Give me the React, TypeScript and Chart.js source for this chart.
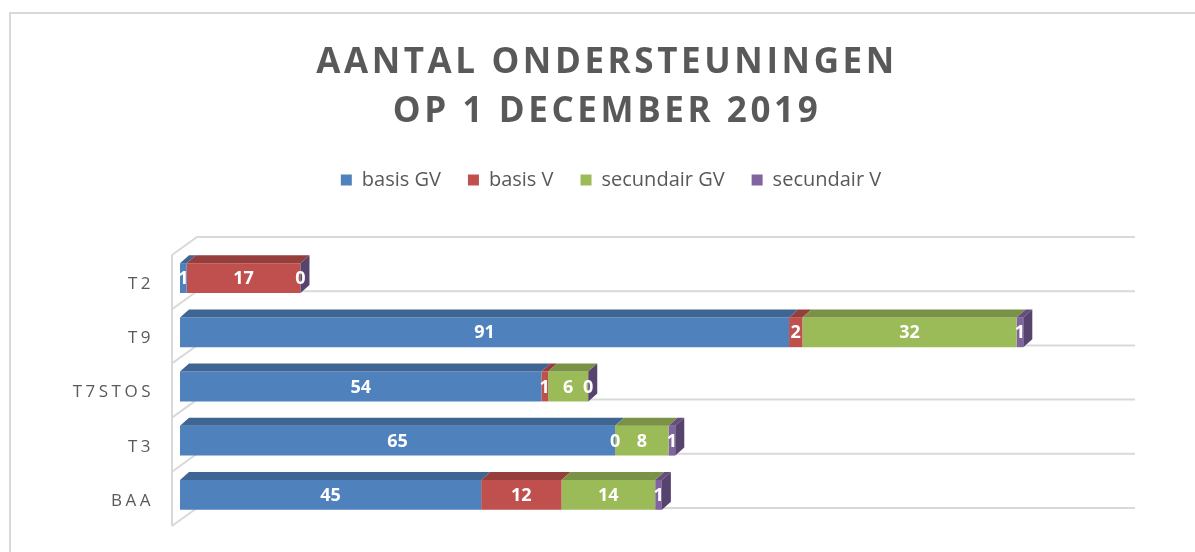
import React, { useEffect, useRef } from "react";
import { Chart, registerables } from "chart.js";

Chart.register(...registerables);

const categories = ["T2", "T9", "T7STOS", "T3", "BAA"];
const basisGV = [1, 91, 54, 65, 45];
const basisV = [17, 2, 1, 0, 12];
const secundairGV = [null, 32, 6, 8, 14];
const secundairV = [0, 1, 0, 1, 1];
const seriesNames = ["basis GV", "basis V", "secundair GV", "secundair V"];
const seriesColors = ["#4F81BD", "#C0504D", "#9BBB59", "#8064A2"];
const titleLines = ["AANTAL ONDERSTEUNINGEN", "OP 1 DECEMBER 2019"];
const xMax = 140;

const FONT = '"Open Sans", "DejaVu Sans", sans-serif';
const DX = 9;
const DY = 8;

function shade(hex: string, f: number): string {
  const n = parseInt(hex.slice(1), 16);
  const r = Math.round(((n >> 16) & 255) * f);
  const g = Math.round(((n >> 8) & 255) * f);
  const b = Math.round((n & 255) * f);
  return `rgb(${r},${g},${b})`;
}

const threeD = {
  id: "threeD",
  beforeDatasetsDraw(chart: any) {
    const { ctx, chartArea } = chart;
    const { left, right, top, bottom } = chartArea;
    const n = categories.length;
    const c = (bottom - top) / n;
    ctx.save();
    ctx.letterSpacing = "0px";
    ctx.strokeStyle = "#d9d9d9";
    ctx.lineWidth = 2;
    ctx.beginPath();
    ctx.moveTo(left - 8, top + 4);
    ctx.lineTo(left - 8, bottom + 4);
    for (let k = 0; k <= n; k++) {
      const b = top + k * c;
      ctx.moveTo(left - 8, b + 4);
      ctx.lineTo(left + 17, b - 14);
      ctx.lineTo(right + 18, b - 14);
    }
    ctx.stroke();
    ctx.restore();
  },
  afterDatasetsDraw(chart: any) {
    const ctx = chart.ctx;
    const datasets = chart.data.datasets;
    const lastIdx = categories.map((_, i) => {
      let last = -1;
      datasets.forEach((ds: any, d: number) => {
        if (ds.data[i] != null) last = d;
      });
      return last;
    });
    ctx.save();
    ctx.letterSpacing = "0px";
    datasets.forEach((ds: any, d: number) => {
      const meta = chart.getDatasetMeta(d);
      const color = seriesColors[d];
      meta.data.forEach((el: any, i: number) => {
        if (ds.data[i] == null) return;
        const { x, y, base, height } = el.getProps(["x", "y", "base", "height"], true);
        const t = y - height / 2;
        const b = y + height / 2;
        ctx.fillStyle = shade(color, 0.78);
        ctx.beginPath();
        ctx.moveTo(base, t);
        ctx.lineTo(base + DX, t - DY);
        ctx.lineTo(x + DX, t - DY);
        ctx.lineTo(x, t);
        ctx.closePath();
        ctx.fill();
        if (lastIdx[i] === d) {
          ctx.fillStyle = shade(color, 0.68);
          ctx.beginPath();
          ctx.moveTo(x, t);
          ctx.lineTo(x + DX, t - DY);
          ctx.lineTo(x + DX, b - DY);
          ctx.lineTo(x, b);
          ctx.closePath();
          ctx.fill();
        }
      });
    });
    ctx.font = `bold 18px ${FONT}`;
    ctx.fillStyle = "#ffffff";
    ctx.textAlign = "center";
    ctx.textBaseline = "middle";
    datasets.forEach((ds: any, d: number) => {
      const meta = chart.getDatasetMeta(d);
      meta.data.forEach((el: any, i: number) => {
        const v = ds.data[i];
        if (v == null) return;
        const { x, y, base } = el.getProps(["x", "y", "base"], true);
        ctx.fillText(String(v), (base + x) / 2, y + 1);
      });
    });
    ctx.restore();
    ctx.letterSpacing = "3.5px";
  },
  afterDraw(chart: any) {
    const ctx = chart.ctx;
    ctx.save();
    ctx.letterSpacing = "3.6px";
    ctx.font = `bold 35px ${FONT}`;
    ctx.fillStyle = "#595959";
    ctx.textAlign = "center";
    ctx.textBaseline = "middle";
    const cx = chart.width / 2 + 4;
    ctx.fillText(titleLines[0], cx, 49);
    ctx.fillText(titleLines[1], cx, 98);
    ctx.restore();
    ctx.letterSpacing = "0px";
  },
};

export default function App() {
  const ref = useRef<HTMLCanvasElement | null>(null);
  useEffect(() => {
    if (!ref.current) return;
    const series = [basisGV, basisV, secundairGV, secundairV];
    const chart = new Chart(ref.current, {
      type: "bar",
      data: {
        labels: categories,
        datasets: series.map((data, i) => ({
          label: seriesNames[i],
          data: data as any,
          backgroundColor: seriesColors[i],
          borderWidth: 0,
          barPercentage: 0.55,
          categoryPercentage: 1,
        })),
      },
      options: {
        indexAxis: "y",
        animation: false,
        responsive: false,
        maintainAspectRatio: false,
        layout: { padding: { top: 129, left: 16, right: 0, bottom: 30 } },
        plugins: {
          title: { display: false },
          tooltip: { enabled: false },
          legend: {
            position: "top",
            labels: {
              boxWidth: 11,
              boxHeight: 11,
              padding: 27,
              color: "#595959",
              font: { size: 20, family: FONT },
            },
          },
        },
        scales: {
          x: {
            type: "linear",
            position: "top",
            stacked: true,
            min: 0,
            max: xMax,
            grid: { display: false },
            border: { display: false },
            ticks: { display: false },
            afterFit(s: any) {
              s.height = 51;
              s.paddingLeft = 0;
              s.paddingRight = 0;
            },
          },
          y: {
            type: "category",
            stacked: true,
            grid: { display: false, drawTicks: false },
            border: { display: false },
            ticks: {
              color: "#595959",
              font: { size: 17, family: FONT },
              padding: 26,
              labelOffset: 6,
              z: 1,
            },
            afterFit(s: any) {
              s.width = 153;
              s.paddingTop = 0;
              s.paddingBottom = 0;
            },
          },
          y2: {
            type: "linear",
            position: "right",
            grid: { display: false },
            border: { display: false },
            ticks: { display: false },
            afterFit(s: any) {
              s.width = 78;
              s.paddingTop = 0;
              s.paddingBottom = 0;
            },
          },
        },
      } as any,
      plugins: [threeD],
    });
    return () => chart.destroy();
  }, []);

  return (
    <div
      style={{
        position: "absolute",
        left: 9,
        top: 12,
        width: 1186,
        height: 540,
        boxSizing: "border-box",
        borderTop: "2px solid #d9d9d9",
        borderLeft: "2px solid #d9d9d9",
        background: "#ffffff",
      }}
    >
      <canvas ref={ref} width={1184} height={538} style={{ display: "block", width: 1184, height: 538 }} />
    </div>
  );
}
